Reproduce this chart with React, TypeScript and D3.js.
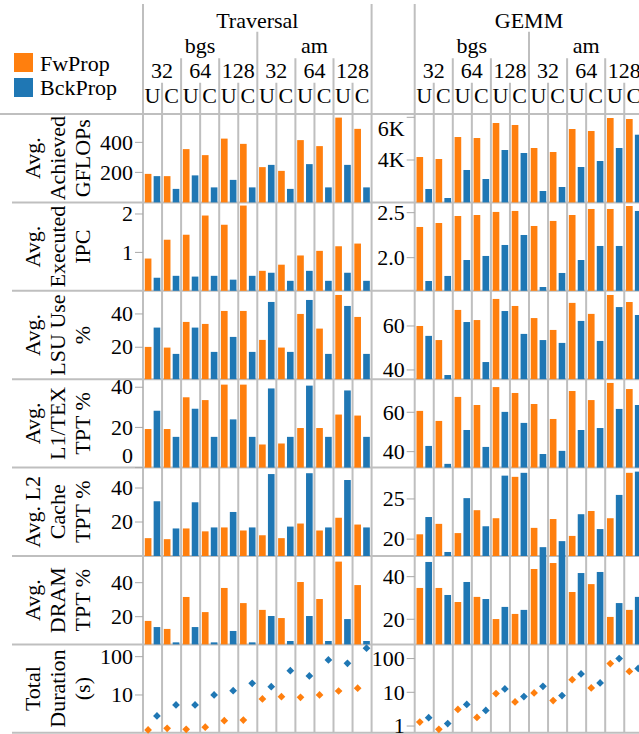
import React, { useEffect, useRef } from 'react';
import * as d3 from 'd3';

// categories
const groups = ['Traversal', 'GEMM'];
const datasets = ['bgs', 'am'];
const sizes = ['32', '64', '128'];
const modes = ['U', 'C'];
const series = ['FwProp', 'BckProp'];
const seriesColors = ['#ff7f0e', '#1f77b4'];

const rowTitles = [
  ['Avg.', 'Achieved', 'GFLOPs'],
  ['Avg.', 'Executed', 'IPC'],
  ['Avg.', 'LSU Use', '%'],
  ['Avg.', 'L1/TEX', 'TPT %'],
  ['Avg. L2', 'Cache', 'TPT %'],
  ['Avg.', 'DRAM', 'TPT %'],
  ['Total', 'Duration', '(s)'],
];

// Traversal (column order: bgs 32 U, bgs 32 C, bgs 64 U, ... am 128 C)
const travGflopsFw = [190, 175, 355, 315, 425, 390, 235, 210, 415, 375, 565, 490];
const travGflopsBck = [175, 90, 180, 100, 150, 100, 250, 90, 255, 100, 250, 100];
const travIpcFw = [0.84, 1.33, 1.46, 1.96, 1.72, 2.22, 0.52, 0.68, 0.92, 1.04, 1.16, 1.23];
const travIpcBck = [0.34, 0.39, 0.37, 0.39, 0.29, 0.39, 0.47, 0.26, 0.52, 0.26, 0.47, 0.26];
const travLsuFw = [20.2, 19.8, 35.2, 34, 41.8, 41.8, 24.4, 19.8, 40, 31.2, 51.4, 38.2];
const travLsuBck = [31.8, 16, 31.8, 17.2, 26.2, 17.2, 47.2, 17.2, 48.4, 16, 44.8, 16];
const travL1Fw = [19.2, 19.2, 35, 33.6, 41.3, 41.3, 11.5, 12, 19.7, 19.7, 26.4, 25.9];
const travL1Bck = [28.3, 15.3, 29.3, 15.3, 24, 15.3, 39.4, 15.3, 40.8, 15.3, 38.4, 15.3];
const travL2Fw = [10.5, 9.9, 16.2, 14.5, 16.8, 15, 12.2, 10.5, 19.1, 15, 22.5, 18.5];
const travL2Bck = [32.2, 16.2, 31.6, 16.8, 25.9, 16.8, 48.2, 17.3, 48.7, 16.8, 44.7, 16.8];
const travDramFw = [17.5, 12.8, 31.6, 22.7, 36.9, 28, 24, 19.2, 40.4, 30.4, 52.4, 38.6];
const travDramBck = [13.9, 4.9, 13.9, 4.9, 11.6, 4.9, 20.4, 5.7, 20.4, 5.7, 18.6, 5.7];
const travDurFw = [1.22, 1.35, 1.27, 1.44, 2.14, 2.22, 7.9, 9.0, 8.7, 10, 12.7, 15];
const travDurBck = [2.83, 5.5, 5.5, 10, 12.9, 20.2, 16.5, 43, 31.3, 82, 67, 166];

// GEMM
const gemmGflopsFw = [4140, 4047, 5077, 5030, 5733, 5640, 4562, 4375, 5452, 5358, 5967, 5920];
const gemmGflopsBck = [2642, 2220, 3532, 3110, 4468, 4328, 2548, 2735, 3672, 3953, 4562, 5185];
const gemmIpcFw = [2.341, 2.385, 2.463, 2.474, 2.508, 2.519, 2.352, 2.408, 2.474, 2.541, 2.541, 2.574];
const gemmIpcBck = [1.741, 1.797, 1.974, 2.019, 2.141, 2.252, 1.674, 1.83, 1.974, 2.13, 2.13, 2.519];
const gemmLsuFw = [60, 53.6, 67.3, 62.7, 72.3, 69.1, 63.6, 58.2, 70.5, 65.5, 74.1, 70.9];
const gemmLsuBck = [55.5, 37.7, 61.8, 43.6, 66.8, 56.4, 53.6, 52.3, 62.3, 53.2, 68.6, 65];
const gemmL1Fw = [60.7, 55.6, 67.8, 63.7, 72.8, 69.8, 64.2, 56.6, 70.8, 66.2, 74.9, 71.8];
const gemmL1Bck = [42.9, 33.8, 51, 42.4, 60.2, 54.6, 38.8, 40.4, 51, 52, 61.7, 63.7];
const gemmL2Fw = [20.6, 21.9, 20.75, 23.6, 22.6, 27.75, 21.4, 22.5, 20.4, 23.5, 22.6, 28.25];
const gemmL2Bck = [22.75, 18.4, 25.1, 21.6, 27.9, 28.25, 19, 19.75, 23.1, 21.25, 25.5, 28.4];
const gemmDramFw = [34.7, 34.7, 28.1, 30.5, 20.1, 22.5, 43.6, 46.4, 32.8, 36.5, 21.1, 24.4];
const gemmDramBck = [46.9, 31.4, 37.5, 29.5, 25.8, 24.4, 49.7, 49.7, 41.7, 42.2, 27.6, 30.5];
const gemmDurFw = [1.31, 0.8, 3.1, 1.8, 9.2, 5.2, 9.6, 5.7, 23.6, 13.5, 71, 41.5];
const gemmDurBck = [1.77, 1.18, 4.35, 2.9, 12.6, 7.5, 15, 8, 35, 18.9, 100, 50.8];

// tick values per row
const travTicks = [[200, 400], [1, 2], [20, 40], [0, 20, 40], [20, 40], [20, 40], [10, 100]];
const gemmTicks = [[4000, 6000], [2.0, 2.5], [40, 60], [40, 60], [20, 25], [20, 40], [1, 10, 100]];

export default function App() {
  const svgRef = useRef<SVGSVGElement>(null);

  useEffect(() => {
    if (!svgRef.current) return;
    const W = 639;
    const svg = d3.select(svgRef.current);
    svg.selectAll('*').remove();

    const font = '"Liberation Serif", "Times New Roman", serif';
    const fs = 22;
    const grid = '#bfbfbf';
    const rowTop = 114, rowH = 88.4, nRows = 7;
    const colW = 19.05;
    const panelX = [143, 414.7];
    const bottomY = rowTop + nRows * rowH;

    const colKeys: string[] = [];
    datasets.forEach(ds => sizes.forEach(sz => modes.forEach(m => colKeys.push(`${ds}|${sz}|${m}`))));

    // 패널별 데이터 + 스케일 도메인
    const panels = [
      {
        rows: [
          { fw: travGflopsFw, bck: travGflopsBck, domain: [0, 589] },
          { fw: travIpcFw, bck: travIpcBck, domain: [0, 2.302] },
          { fw: travLsuFw, bck: travLsuBck, domain: [0.8, 53.9] },
          { fw: travL1Fw, bck: travL1Bck, domain: [0, 44] },
          { fw: travL2Fw, bck: travL2Bck, domain: [0, 52] },
          { fw: travDramFw, bck: travDramBck, domain: [3.7, 55.7] },
          { fw: travDurFw, bck: travDurBck, domain: [1.03, 209], log: true },
        ],
        ticks: travTicks,
        fmt: [null, null, null, null, null, null, null] as any[],
      },
      {
        rows: [
          { fw: gemmGflopsFw, bck: gemmGflopsBck, domain: [2014, 6155] },
          { fw: gemmIpcFw, bck: gemmIpcBck, domain: [1.632, 2.614] },
          { fw: gemmLsuFw, bck: gemmLsuBck, domain: [35.8, 76] },
          { fw: gemmL1Fw, bck: gemmL1Bck, domain: [31.9, 76.8] },
          { fw: gemmL2Fw, bck: gemmL2Bck, domain: [17.9, 28.9] },
          { fw: gemmDramFw, bck: gemmDramBck, domain: [8.2, 49.7] },
          { fw: gemmDurFw, bck: gemmDurBck, domain: [0.63, 263], log: true },
        ],
        ticks: gemmTicks,
        fmt: [(d: number) => `${d / 1000}K`, d3.format('.1f'), null, null, null, null, null] as any[],
      },
    ];

    const gLines = svg.append('g');
    const gMarks = svg.append('g');
    const gText = svg.append('g').style('font-family', font).style('font-size', `${fs}px`).attr('fill', '#000');

    // 가로 구분선
    gLines.append('line').attr('x1', 0).attr('x2', W).attr('y1', rowTop).attr('y2', rowTop)
      .attr('stroke', grid).attr('stroke-width', 2);
    for (let r = 1; r <= nRows; r++) {
      const y = rowTop + r * rowH;
      gLines.append('line').attr('x1', 12).attr('x2', W).attr('y1', y).attr('y2', y)
        .attr('stroke', grid).attr('stroke-width', 2);
    }

    // legend
    series.forEach((s, i) => {
      gMarks.append('rect').attr('x', 14).attr('y', 53 + i * 25).attr('width', 19).attr('height', 19)
        .attr('fill', seriesColors[i]);
      gText.append('text').attr('x', 40).attr('y', 70.5 + i * 24.5).text(s);
    });

    // row titles
    rowTitles.forEach((lines, r) => {
      const cy = rowTop + r * rowH + rowH / 2;
      lines.forEach((t, li) => {
        gText.append('text')
          .attr('transform', `translate(${32 + li * 25}, ${cy}) rotate(-90)`)
          .attr('text-anchor', 'middle').attr('dominant-baseline', 'central')
          .text(t);
      });
    });

    panels.forEach((panel, p) => {
      const x0 = panelX[p];
      const xCol = d3.scaleBand<string>().domain(colKeys).range([x0, x0 + colKeys.length * colW]);
      const xSub = d3.scaleBand<string>().domain(series).range([0, colW]).paddingInner(0.25).paddingOuter(0.2);

      // 세로 구분선 (헤더 레벨별 시작 높이)
      d3.range(colKeys.length + 1).forEach(i => {
        const x = x0 + i * colW;
        const top = i % 12 === 0 ? 4 : i === 6 ? 31.7 : i % 2 === 0 ? 58.3 : 82.7;
        gLines.append('line').attr('x1', x).attr('x2', x).attr('y1', top).attr('y2', bottomY)
          .attr('stroke', grid).attr('stroke-width', 2);
      });

      // headers
      gText.append('text').attr('x', x0 + 6 * colW).attr('y', 27.5).attr('text-anchor', 'middle').text(groups[p]);
      datasets.forEach((ds, di) => {
        gText.append('text').attr('x', x0 + (di * 6 + 3) * colW).attr('y', 52.5).attr('text-anchor', 'middle').text(ds);
        sizes.forEach((sz, si) => {
          gText.append('text').attr('x', x0 + (di * 6 + si * 2 + 1) * colW).attr('y', 78)
            .attr('text-anchor', 'middle').text(sz);
        });
      });
      colKeys.forEach(k => {
        gText.append('text').attr('x', xCol(k)! + colW / 2).attr('y', 102.5)
          .attr('text-anchor', 'middle').text(k.split('|')[2]);
      });

      panel.rows.forEach((row, r) => {
        const top = rowTop + r * rowH, bot = top + rowH;
        const y = row.log
          ? d3.scaleLog().domain(row.domain).range([bot, top])
          : d3.scaleLinear().domain(row.domain).range([bot, top]);
        const fmt = panel.fmt[r] || ((d: number) => String(d));

        // axis ticks
        panel.ticks[r].forEach((t: number) => {
          const ty = y(t);
          gLines.append('line').attr('x1', x0 - 8).attr('x2', x0).attr('y1', ty).attr('y2', ty)
            .attr('stroke', '#a8a8a8').attr('stroke-width', 1);
          const lbl = gText.append('text').attr('x', x0 - 10).attr('text-anchor', 'end').text(fmt(t));
          if (ty - top < 5) lbl.attr('y', ty + fs * 0.86);
          else if (bot - ty < 5) lbl.attr('y', ty - fs * 0.22);
          else lbl.attr('y', ty).attr('dy', '0.33em');
        });

        const vals = [row.fw, row.bck];
        vals.forEach((arr, si) => {
          if (row.log) {
            const sym = d3.symbol().type(d3.symbolSquare).size(30);
            gMarks.selectAll(null).data(arr).join('path')
              .attr('d', sym() as string)
              .attr('transform', (d, i) => `translate(${xCol(colKeys[i])! + xSub(series[si])! + xSub.bandwidth() / 2}, ${y(d)}) rotate(45)`)
              .attr('fill', seriesColors[si]);
          } else {
            gMarks.selectAll(null).data(arr).join('rect')
              .attr('x', (d, i) => xCol(colKeys[i])! + xSub(series[si])!)
              .attr('width', xSub.bandwidth())
              .attr('y', d => Math.max(top, y(d)))
              .attr('height', d => Math.max(0, bot - Math.max(top, y(d))))
              .attr('fill', seriesColors[si]);
          }
        });
      });
    });
  }, []);

  return (
    <div style={{ position: 'absolute', left: 0, top: 0 }}>
      <svg ref={svgRef} width={639} height={734} style={{ display: 'block', background: '#fff' }} />
    </div>
  );
}
